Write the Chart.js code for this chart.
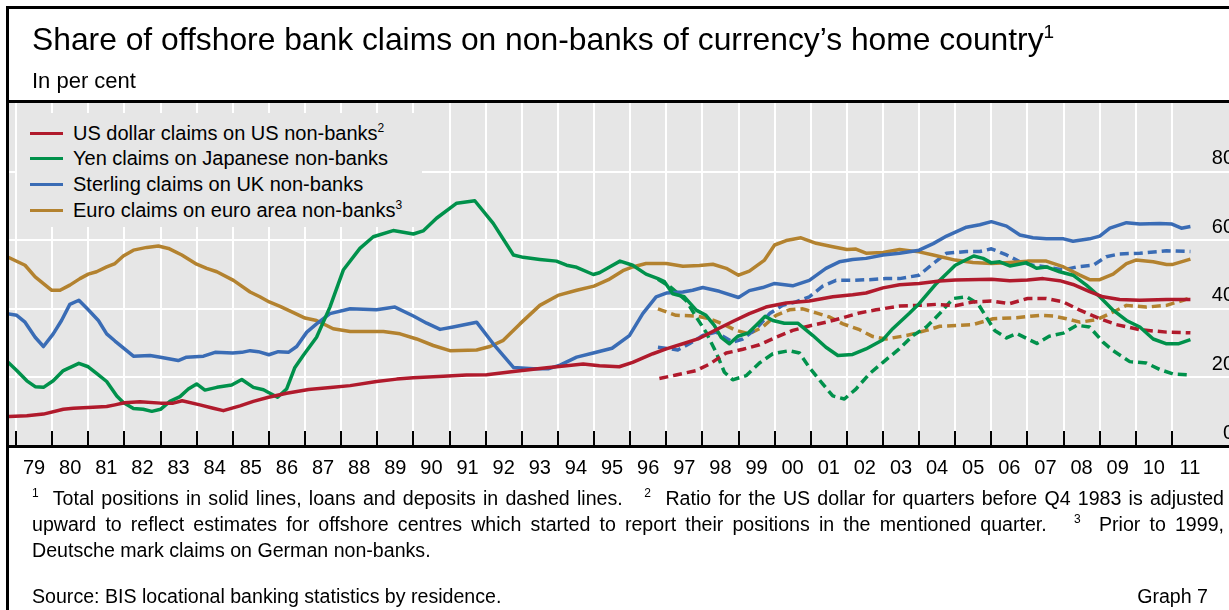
<!DOCTYPE html>
<html>
<head>
<meta charset="utf-8">
<script src="https://cdn.jsdelivr.net/npm/chart.js@4.4.1/dist/chart.umd.min.js"></script>
<style>
  html, body { margin:0; padding:0; }
  body { width:1229px; height:610px; overflow:hidden; position:relative; background:#fff;
         font-family:'Liberation Sans', Arial, Helvetica, sans-serif; color:#000; }
  .abs { position:absolute; }
  #chart { position:absolute; left:0; top:0; }
  .bar { position:absolute; background:#000; }
  .title { left:32px; top:23px; font-size:31.8px; line-height:32px; white-space:nowrap; }
  .title sup { font-size:19px; vertical-align:12px; line-height:0; }
  .sub { left:32px; top:70px; font-size:22px; line-height:22px; white-space:nowrap; }
  #legendBox { left:17px; top:113px; width:405px; height:114px; background:#e6e6e6; }
  .lg { position:absolute; left:73px; height:26px; line-height:26px; font-size:20px; white-space:nowrap; }
  .lg sup { font-size:12px; vertical-align:8px; line-height:0; }
  .sw { position:absolute; left:30px; width:33px; height:3px; }
  .fn { position:absolute; left:32px; width:1192px; font-size:19.6px; line-height:26px; height:26px;
        text-align:justify; text-align-last:justify; overflow:hidden; }
  .fn.last { text-align:left; text-align-last:left; }
  .fn sup { font-size:12px; vertical-align:8px; line-height:0; }
  .src { left:32px; top:583px; font-size:19.6px; line-height:26px; white-space:nowrap; }
  .gr { right:21px; top:583px; font-size:19.6px; line-height:26px; white-space:nowrap; }
</style>
</head>
<body>
<canvas id="chart" width="1229" height="610"></canvas>

<div class="bar" style="left:6px; top:6px; width:1223px; height:3px;"></div>
<div class="bar" style="left:6px; top:6px; width:3px; height:604px;"></div>
<div class="bar" style="left:6px; top:100px; width:1223px; height:3px;"></div>

<div class="abs title">Share of offshore bank claims on non-banks of currency’s home country<sup>1</sup></div>
<div class="abs sub">In per cent</div>

<div class="abs" id="legendBox"></div>
<div class="sw" id="sw0" style="top:132px;"></div>
<div class="lg" style="top:120px;">US dollar claims on US non-banks<sup>2</sup></div>
<div class="sw" id="sw1" style="top:157px;"></div>
<div class="lg" style="top:145px;">Yen claims on Japanese non-banks</div>
<div class="sw" id="sw2" style="top:183px;"></div>
<div class="lg" style="top:171px;">Sterling claims on UK non-banks</div>
<div class="sw" id="sw3" style="top:209px;"></div>
<div class="lg" style="top:197px;">Euro claims on euro area non-banks<sup>3</sup></div>

<div class="fn" style="top:485px;"><sup>1</sup>&nbsp; Total positions in solid lines, loans and deposits in dashed lines.&nbsp;&nbsp; <sup>2</sup>&nbsp; Ratio for the US dollar for quarters before Q4 1983 is adjusted</div>
<div class="fn" style="top:511px;">upward to reflect estimates for offshore centres which started to report their positions in the mentioned quarter.&nbsp;&nbsp; <sup>3</sup>&nbsp; Prior to 1999,</div>
<div class="fn last" style="top:537px;">Deutsche mark claims on German non-banks.</div>
<div class="abs src">Source: BIS locational banking statistics by residence.</div>
<div class="abs gr">Graph 7</div>

<script>
// ---------------- data ----------------
const xTickYears = [1979,1980,1981,1982,1983,1984,1985,1986,1987,1988,1989,1990,1991,1992,1993,1994,1995,
                    1996,1997,1998,1999,2000,2001,2002,2003,2004,2005,2006,2007,2008,2009,2010,2011];
const yTickValues = [0, 20, 40, 60, 80];

// US dollar claims on US non-banks (total positions)
const usYears  = [1978.75,1979.3,1979.76,1980.31,1980.59,1981.0,1981.51,1981.74,1982.0,1982.43,1983.0,1983.35,1983.6,1984.09,1984.46,1984.74,1985.2,1985.57,1985.99,1986.49,1987.1,1987.78,1988.25,1988.98,1989.54,1990.0,1990.83,1991.47,1992.03,1992.77,1993.69,1994.24,1994.7,1995.15,1995.7,1996.07,1996.63,1997.0,1997.46,1997.92,1998.38,1998.84,1999.3,1999.76,2000.32,2000.96,2001.61,2002.16,2002.53,2003.0,2003.46,2004.0,2004.57,2005.0,2006.0,2006.51,2007.0,2007.43,2007.89,2008.26,2008.72,2009.09,2009.55,2010.11,2010.85,2011.51];
const usValues = [8.6,8.8,9.3,10.7,11.0,11.2,11.5,12.0,12.6,12.9,12.5,12.5,13.2,12.0,11.0,10.3,11.7,13.0,14.2,15.4,16.5,17.1,17.6,18.8,19.5,19.9,20.3,20.7,20.8,21.7,22.8,23.4,23.9,23.4,23.1,24.4,26.9,28.3,29.8,31.4,33.9,36.3,38.6,40.5,41.7,42.3,43.5,44.1,44.6,46.1,47.0,47.4,48.1,48.4,48.6,48.2,48.4,48.8,48.2,47.1,45.0,43.5,42.7,42.5,42.7,42.7];

// Yen claims on Japanese non-banks (total positions)
const jpYears  = [1978.75,1979.02,1979.3,1979.53,1979.76,1980.03,1980.31,1980.74,1981.0,1981.23,1981.51,1981.79,1981.97,1982.25,1982.52,1982.76,1983.0,1983.26,1983.54,1983.77,1984.0,1984.23,1984.56,1984.97,1985.25,1985.57,1985.85,1985.99,1986.24,1986.49,1986.72,1986.95,1987.32,1987.69,1988.06,1988.52,1988.89,1989.44,1990.0,1990.27,1990.64,1991.2,1991.7,1992.21,1992.77,1993.04,1993.5,1993.96,1994.24,1994.52,1994.98,1995.15,1995.43,1995.72,1996.07,1996.44,1996.77,1996.95,1997.18,1997.5,1997.83,1998.1,1998.33,1998.52,1998.75,1998.98,1999.26,1999.49,1999.74,1999.95,2000.27,2000.64,2001.06,2001.42,2001.75,2002.16,2002.53,2003.0,2003.27,2003.73,2004.0,2004.48,2005.0,2005.51,2005.77,2006.0,2006.23,2006.51,2006.97,2007.25,2007.52,2007.89,2008.26,2008.63,2009.0,2009.37,2009.74,2010.11,2010.48,2010.85,2011.17,2011.51];
const jpValues = [24.7,22.0,19.0,17.3,17.1,19.0,22.0,24.1,23.1,21.2,18.8,14.6,12.7,10.9,10.7,10.1,10.7,13.0,14.4,16.6,18.1,16.3,17.1,17.8,19.4,17.1,16.4,15.6,14.2,16.6,22.9,26.4,31.7,40.5,51.3,57.6,61.0,62.8,61.8,62.7,66.4,70.8,71.5,64.9,55.7,55.0,54.4,53.9,52.7,52.1,50.0,50.5,52.2,53.9,52.7,50.1,48.8,47.9,44.4,43.5,39.6,38.1,35.2,31.7,29.8,32.0,32.9,35.2,37.8,36.6,35.8,35.8,32.2,28.8,26.4,26.7,28.3,31.0,34.2,38.7,41.5,47.4,52.7,55.4,54.7,53.4,53.7,52.5,53.4,51.8,52.2,50.8,49.8,46.9,43.5,39.6,36.6,34.7,31.2,29.8,29.8,31.0];

// Sterling claims on UK non-banks (total positions)
const ukYears  = [1978.75,1979.02,1979.25,1979.53,1979.76,1980.03,1980.26,1980.49,1980.74,1981.0,1981.28,1981.51,1981.74,1982.25,1982.71,1983.0,1983.49,1983.72,1984.19,1984.51,1985.0,1985.25,1985.48,1985.71,1986.0,1986.26,1986.54,1986.77,1987.05,1987.32,1987.69,1988.25,1988.98,1989.49,1990.0,1990.37,1990.74,1991.1,1991.75,1992.21,1992.77,1993.32,1993.73,1994.06,1994.52,1994.98,1995.5,1995.98,1996.35,1996.72,1997.0,1997.46,1997.73,1998.01,1998.47,1999.0,1999.3,1999.67,2000.0,2000.5,2000.96,2001.42,2001.79,2002.16,2002.53,2003.0,2003.46,2004.0,2004.39,2004.76,2005.31,2005.68,2006.0,2006.42,2006.79,2007.15,2007.52,2008.0,2008.26,2008.72,2009.0,2009.28,2009.74,2010.11,2010.66,2011.0,2011.26,2011.51];
const ukValues = [38.6,38.1,36.1,31.7,29.0,32.7,36.6,41.3,42.5,39.7,36.6,32.7,30.6,26.2,26.4,25.9,24.9,25.9,26.2,27.3,27.1,27.3,27.8,27.5,26.6,27.5,27.3,29.0,33.2,35.6,38.6,40.0,39.7,40.5,37.9,35.8,34.0,34.7,36.1,29.8,22.9,22.5,22.5,23.6,25.9,27.1,28.5,32.2,38.6,43.5,44.6,44.9,45.4,46.2,45.1,43.3,45.3,46.2,47.4,46.7,48.3,51.8,53.7,54.4,54.7,55.7,56.2,57.1,59.0,61.2,63.8,64.5,65.4,64.1,61.5,60.7,60.4,60.4,59.7,60.4,61.2,63.5,65.1,64.7,64.9,64.7,63.5,64.0];

// Euro claims on euro area non-banks (total positions)
const euYears  = [1978.75,1979.25,1979.53,1979.99,1980.22,1980.49,1980.77,1981.0,1981.23,1981.51,1981.74,1981.97,1982.25,1982.62,1982.94,1983.22,1983.59,1984.0,1984.28,1984.56,1985.02,1985.48,1985.75,1986.01,1986.31,1986.68,1987.0,1987.32,1987.78,1988.25,1988.71,1989.17,1989.63,1990.09,1990.55,1991.01,1991.75,1992.12,1992.49,1992.95,1993.5,1994.0,1994.52,1995.0,1995.4,1995.8,1996.07,1996.44,1997.0,1997.46,1997.92,1998.29,1998.66,1999.0,1999.3,1999.72,2000.0,2000.32,2000.73,2001.15,2001.61,2002.0,2002.25,2002.53,2003.0,2003.46,2004.0,2004.39,2005.0,2005.49,2006.0,2006.51,2007.0,2007.52,2008.0,2008.45,2008.72,2009.0,2009.37,2009.74,2010.0,2010.48,2010.85,2011.0,2011.51];
const euValues = [55.2,52.7,49.3,45.4,45.4,46.9,48.8,50.1,50.8,52.2,53.2,55.4,57.1,57.9,58.3,57.6,55.7,53.0,51.8,50.8,48.3,44.9,43.5,42.0,40.7,38.9,37.3,36.6,34.2,33.4,33.4,33.4,32.7,31.2,29.3,27.8,28.0,29.0,30.8,35.6,41.0,43.9,45.4,46.6,48.5,51.1,52.2,53.2,53.2,52.4,52.6,53.0,51.8,49.8,51.0,54.2,58.6,59.9,60.7,59.1,58.1,57.3,57.4,56.2,56.4,57.3,56.6,55.7,54.2,53.5,53.2,53.5,53.9,53.9,52.2,49.8,48.5,48.5,50.1,53.2,54.2,53.7,52.9,52.9,54.5];

// Loans and deposits (dashed lines)
const usLdYears  = [1996.81,1997.27,1997.83,1998.2,1998.66,1999.12,1999.58,2000.04,2000.5,2000.96,2001.42,2001.79,2002.35,2002.81,2003.46,2004.0,2004.48,2005.0,2005.49,2006.0,2006.51,2007.0,2007.52,2007.99,2008.45,2009.0,2009.46,2010.11,2010.85,2011.51];
const usLdValues = [19.7,20.7,22.0,23.9,27.1,28.2,29.5,31.7,33.7,35.0,36.1,37.1,38.8,39.7,40.8,41.0,41.3,40.9,42.0,42.3,41.5,43.0,43.0,42.0,39.6,37.1,35.4,33.9,33.2,33.0];

const jpLdYears  = [1996.77,1997.1,1997.55,1997.83,1998.1,1998.38,1998.61,1998.84,1999.21,1999.58,1999.95,2000.41,2000.69,2000.96,2001.33,2001.61,2001.93,2002.25,2002.62,2003.0,2003.45,2003.83,2004.2,2004.57,2004.94,2005.31,2005.63,2005.86,2006.09,2006.42,2006.7,2007.26,2007.6,2007.99,2008.37,2008.72,2009.09,2009.37,2009.83,2010.29,2010.66,2011.03,2011.51];
const jpLdValues = [48.6,46.5,42.4,37.6,33.2,27.3,21.5,19.3,20.5,24.2,26.9,27.8,27.1,22.9,18.1,14.6,13.7,16.6,21.0,24.4,28.3,32.2,34.7,38.6,43.0,43.5,41.5,37.6,33.7,31.5,32.8,29.9,32.0,32.9,35.2,34.7,30.3,27.8,24.6,24.2,22.3,21.0,20.7];

const ukLdYears  = [1996.77,1997.32,1997.64,1998.01,1998.38,1998.84,1999.12,1999.49,1999.86,2000.22,2000.59,2000.96,2001.33,2001.7,2002.16,2002.62,2003.08,2003.46,2004.0,2004.39,2004.76,2005.31,2005.68,2006.0,2006.42,2006.79,2007.15,2007.52,2007.99,2008.35,2008.82,2009.18,2009.55,2010.11,2010.85,2011.51];
const ukLdValues = [28.8,28.0,29.8,32.2,33.2,30.3,31.2,34.2,38.6,41.0,42.0,43.5,46.6,48.3,48.3,48.5,48.8,48.8,49.8,53.2,56.2,56.7,56.7,57.5,55.7,53.7,52.7,52.2,51.3,52.2,52.7,55.2,56.0,56.2,56.9,56.7];

const euLdYears  = [1996.77,1997.27,1997.83,1998.2,1998.56,1998.93,1999.3,1999.67,2000.04,2000.41,2000.78,2001.15,2001.52,2001.89,2002.35,2002.72,2003.08,2003.65,2004.2,2004.57,2005.49,2006.05,2006.69,2007.34,2007.71,2008.08,2008.45,2008.91,2009.28,2009.74,2010.29,2010.85,2011.31,2011.51];
const euLdValues = [40.0,38.1,37.9,37.1,35.6,33.7,32.7,34.7,38.1,39.7,40.0,38.8,37.6,35.6,33.9,31.9,31.2,32.2,33.7,34.9,35.4,37.1,37.4,38.1,37.9,37.1,36.1,36.8,38.6,41.0,40.5,41.0,42.5,43.2];

const seriesNames = ['US dollar claims on US non-banks', 'Yen claims on Japanese non-banks',
                     'Sterling claims on UK non-banks', 'Euro claims on euro area non-banks'];
const seriesColors = ['#B01A2C', '#00914B', '#3A6CB5', '#B3822F'];

// ---------------- chart ----------------
const FONT = "'Liberation Sans', Arial, Helvetica, sans-serif";
Chart.defaults.font.family = FONT;
Chart.defaults.color = '#000';

function pts(xs, ys) { return xs.map((x, i) => ({ x: x, y: ys[i] })); }
function ds(label, xs, ys, color, dashed) {
  return {
    label: label, data: pts(xs, ys), borderColor: color, backgroundColor: color,
    borderWidth: 3.5, pointRadius: 0, pointHoverRadius: 0, tension: 0, fill: false,
    borderDash: dashed ? [9, 5] : [], borderCapStyle: 'butt', borderJoinStyle: 'round'
  };
}

seriesColors.forEach((c, i) => { document.getElementById('sw' + i).style.background = c; });

const plotBg = {
  id: 'plotBg',
  beforeDraw(chart) {
    const a = chart.chartArea, ctx = chart.ctx;
    ctx.save(); ctx.fillStyle = '#e6e6e6';
    ctx.fillRect(a.left, a.top, a.right - a.left, a.bottom - a.top);
    ctx.restore();
  }
};

// y tick labels sit just above their grid lines, right-aligned at the right edge
const yLabels = {
  id: 'yLabels',
  afterDraw(chart) {
    const s = chart.scales.y, ctx = chart.ctx;
    ctx.save();
    ctx.font = '20px ' + FONT; ctx.fillStyle = '#000';
    ctx.textAlign = 'right'; ctx.textBaseline = 'middle';
    s.ticks.forEach(t => {
      ctx.fillText(String(t.value), chart.chartArea.right + 5, s.getPixelForValue(t.value) - 13);
    });
    ctx.restore();
  }
};

new Chart(document.getElementById('chart').getContext('2d'), {
  type: 'line',
  data: {
    datasets: [
      ds(seriesNames[0], usYears, usValues, seriesColors[0], false),
      ds(seriesNames[1], jpYears, jpValues, seriesColors[1], false),
      ds(seriesNames[2], ukYears, ukValues, seriesColors[2], false),
      ds(seriesNames[3], euYears, euValues, seriesColors[3], false),
      ds(seriesNames[0] + ' (loans and deposits)', usLdYears, usLdValues, seriesColors[0], true),
      ds(seriesNames[1] + ' (loans and deposits)', jpLdYears, jpLdValues, seriesColors[1], true),
      ds(seriesNames[2] + ' (loans and deposits)', ukLdYears, ukLdValues, seriesColors[2], true),
      ds(seriesNames[3] + ' (loans and deposits)', euLdYears, euLdValues, seriesColors[3], true)
    ]
  },
  options: {
    responsive: false, animation: false, devicePixelRatio: 1,
    layout: { padding: { left: 9, top: 103, right: 0, bottom: 124 } },
    plugins: { legend: { display: false }, tooltip: { enabled: false } },
    scales: {
      x: {
        type: 'linear', min: 1978.806, max: 2012.578,
        afterBuildTicks: s => { s.ticks = xTickYears.map(v => ({ value: v })); },
        afterFit: s => { s.height = 40; s.paddingLeft = 0; s.paddingRight = 0; },
        grid: { color: '#ffffff', lineWidth: 2, drawTicks: true, tickLength: -15, tickColor: '#000', tickWidth: 2 },
        border: { display: true, color: '#000', width: 3 },
        ticks: {
          autoSkip: false, maxRotation: 0, minRotation: 0, labelOffset: 18, padding: 25,
          font: { size: 20, family: FONT }, color: '#000',
          callback: v => String(v).slice(2)
        }
      },
      y: {
        position: 'right', min: 0, max: 100,
        afterBuildTicks: s => { s.ticks = yTickValues.map(v => ({ value: v })); },
        afterFit: s => { s.width = 0; s.paddingTop = 0; s.paddingBottom = 0; },
        grid: { color: c => (c.tick && c.tick.value === 0) ? 'rgba(0,0,0,0)' : '#ffffff', lineWidth: 2, drawTicks: false },
        border: { display: false },
        ticks: { display: false }
      }
    }
  },
  plugins: [plotBg, yLabels]
});
</script>
</body>
</html>
